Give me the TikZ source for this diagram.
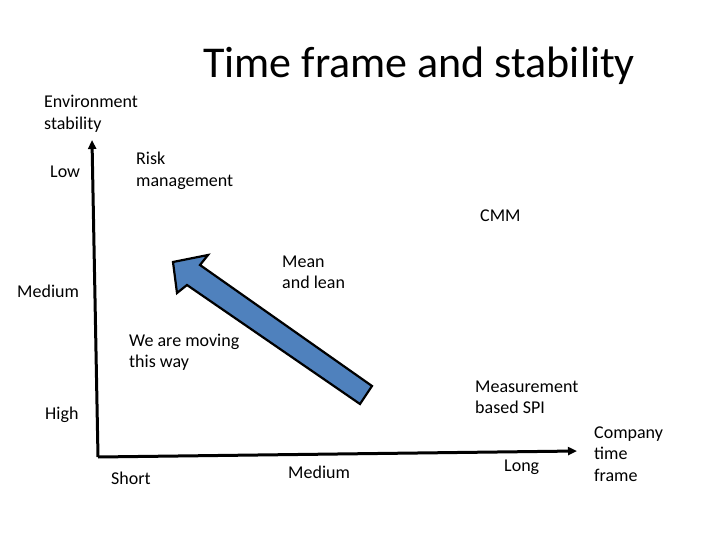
\documentclass[tikz,border=0pt]{standalone}
\usepackage{fontspec}
\setmainfont{Carlito}
\usetikzlibrary{arrows.meta}
\definecolor{arrowblue}{HTML}{4F81BD}
\begin{document}
\begin{tikzpicture}[x=1pt,y=-1pt,
  lbl/.style={font=\fontsize{18}{21.5}\selectfont, align=left, anchor=west, inner sep=0pt},
  axis/.style={line width=3pt, -{Triangle[length=9pt,width=8pt]}},
  bigarrow/.style={fill=arrowblue, draw=black, line width=2.2pt, line join=miter}]
\useasboundingbox (0,0) rectangle (720,540);
\node[font=\fontsize{44}{52}\selectfont, anchor=base, inner sep=0pt] (title) at (419,78) {Time frame and stability};

\coordinate (O) at (98,457);
\coordinate (ytop) at (92,140);
\coordinate (xend) at (577,451);
\draw[axis] (O) -- (ytop);
\draw[axis] (O) -- (xend);

\coordinate (tip) at (173,262);
\coordinate (barbA) at (208,255);
\coordinate (joinA) at (200,265);
\coordinate (tailA) at (372,386);
\coordinate (tailB) at (360,404);
\coordinate (joinB) at (187,285);
\coordinate (barbB) at (177,293);
\draw[bigarrow] (tip) -- (barbA) -- (joinA) -- (tailA) -- (tailB) -- (joinB) -- (barbB) -- cycle;

\node[lbl] (env) at (44,114) {Environment\\stability};
\node[lbl] (low) at (50,172) {Low};
\node[lbl] (risk) at (136,171) {Risk\\management};
\node[lbl] (cmm) at (480,216) {CMM};
\node[lbl] (mean) at (282,272.5) {Mean\\and lean};
\node[lbl] (medL) at (17,291) {Medium};
\node[lbl] (moving) at (129,352.5) {We are moving\\this way};
\node[lbl] (meas) at (475,397.5) {Measurement\\based SPI};
\node[lbl] (high) at (45,415) {High};
\node[lbl] (short) at (111,478) {Short};
\node[lbl] (medB) at (288,472) {Medium};
\node[lbl] (long) at (504,467) {Long};
\node[lbl] (company) at (594,454) {Company\\time\\frame};
\end{tikzpicture}
\end{document}
